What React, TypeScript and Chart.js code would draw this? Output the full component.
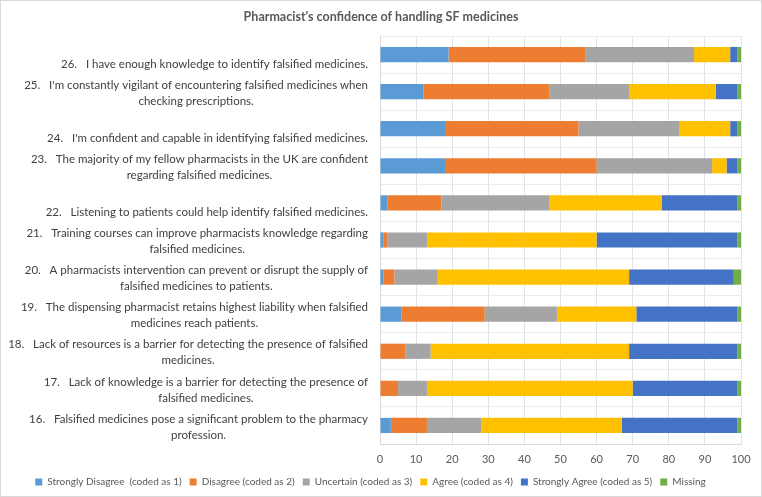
import React, { useEffect, useRef } from "react";
import { Chart, registerables } from "chart.js";

Chart.register(...registerables);

const TITLE = "Pharmacist's confidence of handling SF medicines";

const CATEGORY_LINES: string[][] = [
  ["", "26.   I have enough knowledge to identify falsified medicines."],
  ["25.   I'm constantly vigilant of encountering falsified medicines when", "checking prescriptions."],
  ["", "24.   I'm confident and capable in identifying falsified medicines."],
  ["23.   The majority of my fellow pharmacists in the UK are confident", "regarding falsified medicines."],
  ["", "22.   Listening to patients could help identify falsified medicines."],
  ["21.   Training courses can improve pharmacists knowledge regarding", "falsified medicines."],
  ["20.   A pharmacists intervention can prevent or disrupt the supply of", "falsified medicines to patients."],
  ["19.   The dispensing pharmacist retains highest liability when falsified", "medicines reach patients."],
  ["18.   Lack of resources is a barrier for detecting the presence of falsified", "medicines."],
  ["17.   Lack of knowledge is a barrier for detecting the presence of", "falsified medicines."],
  ["16.   Falsified medicines pose a significant problem to the pharmacy", "profession."],
];

const SERIES_NAMES = [
  "Strongly Disagree  (coded as 1)",
  "Disagree (coded as 2)",
  "Uncertain (coded as 3)",
  "Agree (coded as 4)",
  "Strongly Agree (coded as 5)",
  "Missing",
];

const STRONGLY_DISAGREE = [19, 12, 18, 18, 2, 1, 1, 6, 0, 0, 3];
const DISAGREE = [38, 35, 37, 42, 15, 1, 3, 23, 7, 5, 10];
const UNCERTAIN = [30, 22, 28, 32, 30, 11, 12, 20, 7, 8, 15];
const AGREE = [10, 24, 14, 4, 31, 47, 53, 22, 55, 57, 39];
const STRONGLY_AGREE = [2, 6, 2, 3, 21, 39, 29, 28, 30, 29, 32];
const MISSING = [1, 1, 1, 1, 1, 1, 2, 1, 1, 1, 1];

const X_TICKS = [0, 10, 20, 30, 40, 50, 60, 70, 80, 90, 100];

const COLORS = ["#5B9BD5", "#ED7D31", "#A5A5A5", "#FFC000", "#4472C4", "#70AD47"];

const FONT = "Lato, 'Open Sans', sans-serif";
const LABEL_SIZE = 11.5;
const LINE_H = 16;

const frameAndLabels = {
  id: "frameAndLabels",
  beforeDraw(chart: any) {
    const ctx = chart.ctx;
    ctx.save();
    ctx.fillStyle = "#ffffff";
    ctx.fillRect(0, 0, chart.width, chart.height);
    ctx.strokeStyle = "#D9D9D9";
    ctx.lineWidth = 1;
    ctx.strokeRect(0.5, 0.5, chart.width - 1, chart.height - 1);
    ctx.restore();
  },
  afterDraw(chart: any) {
    const ctx = chart.ctx;
    const y = chart.scales.y;
    ctx.save();
    // title
    ctx.font = `bold 12.5px ${FONT}`;
    ctx.fillStyle = "#595959";
    ctx.textAlign = "center";
    ctx.textBaseline = "middle";
    ctx.fillText(TITLE, chart.width / 2, 17);
    // category labels
    ctx.font = `${LABEL_SIZE}px ${FONT}`;
    ctx.fillStyle = "#404040";
    const right = chart.chartArea.left - 12;
    CATEGORY_LINES.forEach((lines, i) => {
      const c = y.getPixelForValue(i);
      const maxW = Math.max(...lines.map((l) => ctx.measureText(l).width));
      const cx = right - maxW / 2;
      const n = lines.length;
      lines.forEach((l, j) => {
        if (l) ctx.fillText(l, cx, c + (j - (n - 1) / 2) * LINE_H + 1.5);
      });
    });
    ctx.restore();
  },
};

export default function App() {
  const ref = useRef<HTMLCanvasElement>(null);
  useEffect(() => {
    if (!ref.current) return;
    const values = [STRONGLY_DISAGREE, DISAGREE, UNCERTAIN, AGREE, STRONGLY_AGREE, MISSING];
    const chart = new Chart(ref.current, {
      type: "bar",
      data: {
        labels: CATEGORY_LINES.map((l) => l.filter(Boolean).join(" ")),
        datasets: SERIES_NAMES.map((name, k) => ({
          label: name,
          data: values[k],
          backgroundColor: COLORS[k],
          borderWidth: 0,
          categoryPercentage: 1,
          barPercentage: 0.41,
        })),
      },
      options: {
        indexAxis: "y",
        animation: false,
        responsive: true,
        maintainAspectRatio: false,
        layout: { padding: { left: 0, right: 21, top: 36, bottom: 0 } },
        plugins: {
          title: { display: false },
          legend: {
            position: "bottom",
            labels: {
              boxWidth: 7,
              boxHeight: 7,
              padding: 8,
              color: "#595959",
              font: { family: FONT, size: 10 },
            },
          },
          tooltip: { enabled: false },
        },
        scales: {
          x: {
            stacked: true,
            min: 0,
            max: 100,
            afterBuildTicks: (scale: any) => {
              scale.ticks = X_TICKS.map((v) => ({ value: v }));
            },
            ticks: {
              color: "#595959",
              font: { family: FONT, size: 11 },
              padding: 8.5,
            },
            grid: { color: "#DDE3EA", drawTicks: false },
            border: { color: "#D9D9D9" },
            afterFit: (scale: any) => {
              scale.height = 25;
            },
          },
          y: {
            stacked: true,
            ticks: { display: false },
            grid: { color: "#E7ECF1", drawTicks: false },
            border: { color: "#D9D9D9" },
            afterFit: (scale: any) => {
              scale.width = 380;
            },
          },
        },
      },
      plugins: [frameAndLabels],
    });
    return () => chart.destroy();
  }, []);
  return (
    <div style={{ position: "fixed", left: 0, top: 0, width: 762, height: 497 }}>
      <canvas ref={ref} />
    </div>
  );
}
